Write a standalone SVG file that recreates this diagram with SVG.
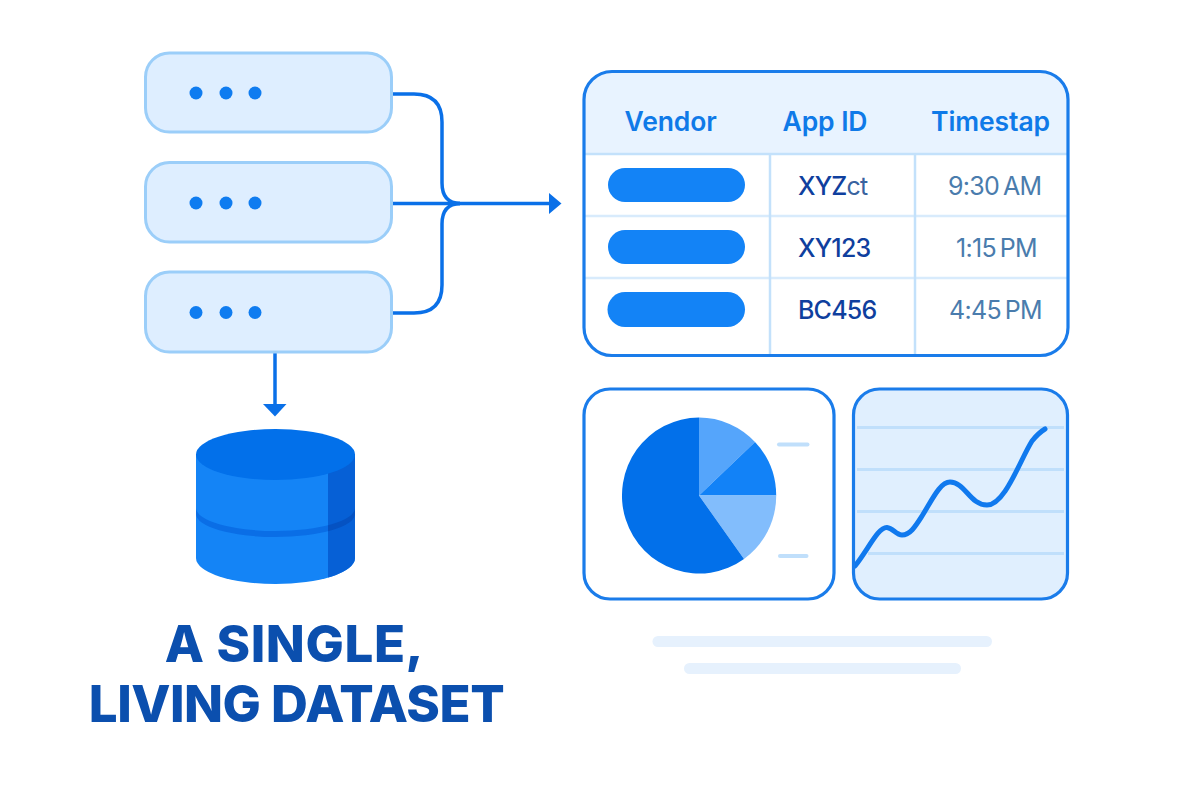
<svg xmlns="http://www.w3.org/2000/svg" width="1200" height="800" viewBox="0 0 1200 800">
<style>
text{font-family:Inter,"Liberation Sans",sans-serif}
.src{fill:#deeeff;stroke:#9bcef9;stroke-width:3}
.dot{fill:#0f7cf0}
.conn{fill:none;stroke:#0a70e8;stroke-width:3.5}
.head{fill:#0a70e8}
.frame{fill:none;stroke:#1a7cea;stroke-width:3.2}
.vline{stroke:#c3e1fb;stroke-width:2.500;fill:none}
.hline{stroke:#d8ebfc;stroke-width:2.500;fill:none}
.pill{fill:#1383f6}
.hd{font-size:26.5px;font-weight:600;fill:#0f7ae8;letter-spacing:-.1px}
.id{font-size:25px;font-weight:500;fill:#0f3f9e;letter-spacing:-.8px}
.tm{font-size:25px;font-weight:400;fill:#4a7cad;letter-spacing:-.7px;word-spacing:-2.500px}
.title{font-size:51px;font-weight:800;fill:#0b4fae;text-anchor:middle}
.bar{fill:#e6f1fd}
.gl{stroke:#c0dffb;stroke-width:3;fill:none}
</style>
<defs><clipPath id="strip"><rect x="328" y="420" width="30" height="170"/></clipPath></defs>
<rect width="1200" height="800" fill="#fff"/>
<g id="connectors">
<path class="conn" d="M392 94H414Q442 94 442 122V183Q442 203 460 203.500"/>
<path class="conn" d="M392 313H414Q442 313 442 285V224Q442 204 460 203.500"/>
<path class="conn" d="M392 203.500H551"/>
<path class="head" d="M549 193L561.500 203.500L549 214Z"/>
<path class="conn" d="M275 352V405"/>
<path class="head" d="M263 404H286.500L275 416.500Z"/>
</g>
<g id="source-1"><rect class="src" x="145.500" y="53" width="246" height="79" rx="24"/><circle class="dot" cx="196" cy="93" r="6.500"/><circle class="dot" cx="226" cy="93" r="6.500"/><circle class="dot" cx="255" cy="93" r="6.500"/></g>
<g id="source-2"><rect class="src" x="145.500" y="162.500" width="246" height="79.500" rx="24"/><circle class="dot" cx="196" cy="203" r="6.500"/><circle class="dot" cx="226" cy="203" r="6.500"/><circle class="dot" cx="255" cy="203" r="6.500"/></g>
<g id="source-3"><rect class="src" x="145.500" y="272" width="246" height="80" rx="24"/><circle class="dot" cx="196" cy="312.500" r="6.500"/><circle class="dot" cx="226" cy="312.500" r="6.500"/><circle class="dot" cx="255" cy="312.500" r="6.500"/></g>
<g id="database">
<path id="db-body" d="M196 454V558A79.500 26 0 0 0 355 558V454Z" fill="#1484f6"/>
<path d="M196 508A79.500 23 0 0 0 355 508V514A79.500 23 0 0 1 196 514Z" fill="#0a6ee6"/>
<g clip-path="url(#strip)">
<path d="M196 454V558A79.500 26 0 0 0 355 558V454Z" fill="#0660d6"/>
<path d="M196 508A79.500 23 0 0 0 355 508V514A79.500 23 0 0 1 196 514Z" fill="#0552c2"/>
</g>
<ellipse cx="275.500" cy="454.500" rx="79.500" ry="25.500" fill="#0270ea"/>
</g>
<g id="title">
<text class="title" x="294.500" y="662" letter-spacing="0.600">A SINGLE,</text>
<text class="title" x="296.500" y="722" letter-spacing="-0.500">LIVING DATASET</text>
</g>
<g id="table">
<path d="M611 72H1040A27 27 0 0 1 1067 99V153H584V99A27 27 0 0 1 611 72Z" fill="#e8f3ff"/>
<path class="vline" stroke-width="3" d="M584 154H1067"/>
<path class="hline" d="M584 216H1067M584 278H1067"/>
<path class="vline" d="M770 155V354M915 155V354"/>
<rect class="frame" x="584" y="71.500" width="484" height="284" rx="28"/>
<rect class="pill" x="608" y="168" width="137" height="34" rx="17"/>
<rect class="pill" x="608" y="230" width="137" height="34" rx="17"/>
<rect class="pill" x="607.500" y="292" width="137.500" height="35" rx="17.500"/>
<text class="hd" x="624.500" y="130.500">Vendor</text>
<text class="hd" x="782.500" y="130.500">App ID</text>
<text class="hd" x="931" y="130.500">Timestap</text>
<text class="id" x="798" y="194.500">XYZ<tspan font-weight="400" fill="#39639f">ct</tspan></text>
<text class="id" x="798" y="256.500">XY123</text>
<text class="id" x="798" y="318.500">BC456</text>
<text class="tm" x="948" y="194.500">9:30 AM</text>
<text class="tm" x="956" y="256.500">1:15 PM</text>
<text class="tm" x="949" y="318.500">4:45 PM</text>
</g>
<g id="pie-chart">
<rect class="frame" x="584" y="389" width="250" height="210" rx="26"/>
<path d="M699 495.500L699 417.500A77.200 78 0 0 1 755 442Z" fill="#55a5fb"/>
<path d="M699 495.500L755 442A77.200 78 0 0 1 776.200 495.500Z" fill="#1282f7"/>
<path d="M699 495.500H776.200A77.200 78 0 0 1 744 559Z" fill="#82bdfc"/>
<path d="M699 495.500L744 559A77.200 78 0 1 1 699 417.500Z" fill="#0270ea"/>
<rect x="777" y="442.500" width="32.500" height="4" rx="2" fill="#c0dffb"/>
<rect x="778" y="554" width="30.500" height="4" rx="2" fill="#c0dffb"/>
</g>
<g id="line-chart">
<rect x="853.500" y="389" width="214" height="210" rx="26" fill="#e0effe"/>
<path class="gl" d="M857 427.500H1064M857 469.500H1064M857 511.500H1064M868 553.500H1064"/>
<path d="M855 566C868 550 878 527 887 527.500C893 528 896 535 902 535C910 535 915 527 922 516C932 500 940 482 950 482C965 482 970 505 987 505C1005 505 1020 460 1032 441C1036 436 1040 432 1045 429" fill="none" stroke="#1079ee" stroke-width="5" stroke-linecap="round"/>
<rect class="frame" x="853.500" y="389" width="214" height="210" rx="26"/>
</g>
<g id="caption-bars">
<rect class="bar" x="652.500" y="636" width="339.500" height="11" rx="5.500"/>
<rect class="bar" x="684" y="663" width="277" height="11" rx="5.500"/>
</g>
</svg>
